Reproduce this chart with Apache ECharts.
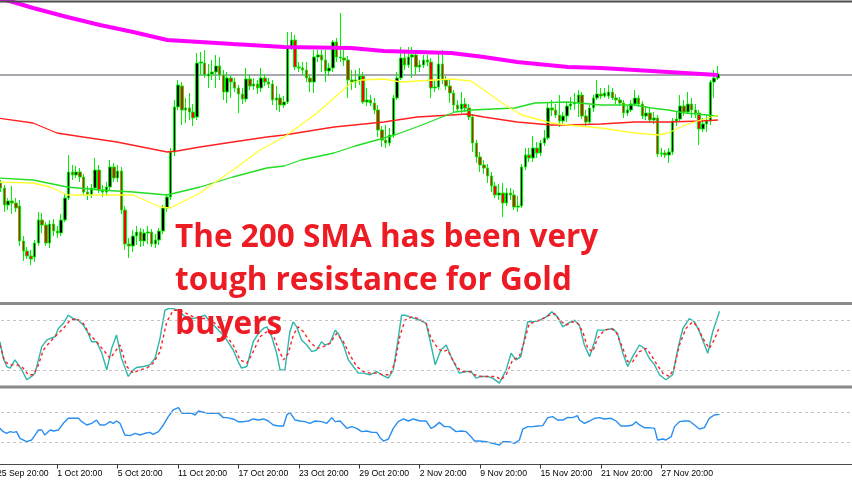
<!DOCTYPE html>
<html><head><meta charset="utf-8">
<script src="https://cdn.jsdelivr.net/npm/echarts/dist/echarts.min.js"></script>
<style>html,body{margin:0;padding:0;background:#fff;overflow:hidden}#c{width:852px;height:485px}</style>
</head><body><div id="c"></div>
<script>
// ---- time axis ----
const tickLabels = ['25 Sep 20:00','1 Oct 20:00','5 Oct 20:00','11 Oct 20:00','17 Oct 20:00','23 Oct 20:00','29 Oct 20:00','2 Nov 20:00','9 Nov 20:00','15 Nov 20:00','21 Nov 20:00','27 Nov 20:00'];
const barsPerLabel = 16;
const totalSlots = 227; // bars + empty chart shift on the right

// ---- price candles (XAU/USD) ----
const opens = [1205.5,1204.25,1203,1198.75,1199.75,1199.25,1198.5,1189.75,1187.25,1186,
1185.75,1189.25,1195,1193.75,1189.25,1194,1192.25,1191.75,1195,1200.5,
1207,1206.25,1207,1205.75,1202,1201.25,1203,1207.5,1202.5,1202,
1203.25,1208.25,1205.5,1207.25,1197.5,1189,1188.5,1191,1192,1189.75,
1191.75,1192,1189,1190,1192.25,1198,1200.75,1212,1223.25,1228.5,
1222.5,1223,1222,1220.75,1234.25,1234.25,1231,1231.5,1232,1233.5,
1231.25,1227,1230.5,1229.5,1228,1226.5,1225.25,1230.25,1228.5,1229,
1228,1230.5,1229.5,1229,1225,1225.5,1223.75,1224.5,1238.25,1240,
1233.25,1233,1232.5,1230.5,1229.5,1235.75,1236.25,1235,1232.25,1233,
1239.5,1235.75,1235.5,1235,1230,1229.5,1230,1231,1224.5,1225,
1224.25,1222.5,1217.5,1215,1214.25,1216.25,1225.5,1230.5,1235.5,1233.75,
1235.75,1236.25,1233.25,1233.75,1235,1234.5,1228,1228.25,1234,1230,
1228.5,1226.75,1223.75,1222.75,1224,1223,1220.75,1214.25,1210.75,1208.75,
1208,1206,1203.5,1201.25,1201.75,1199.25,1201.75,1201.25,1198.25,1198.5,
1208.25,1211.25,1210.5,1213,1211.75,1214.25,1215.5,1223,1222.5,1221.25,
1219.75,1221,1223.5,1224,1224.25,1226.25,1221,1219.5,1223,1225.5,
1226.5,1226,1226,1227,1225.5,1225,1224.25,1221.75,1222.5,1224,
1225.5,1224,1221,1221.75,1220,1220.5,1211.5,1211.75,1211.25,1212,
1219.75,1220.25,1223.5,1222,1224,1222.5,1221.75,1217.75,1219,1219.75,
1229.5,1230.5];
const closes = [1204.25,1203,1198.75,1199.75,1199.25,1198,1189.75,1187.25,1186,1185.25,
1189.25,1195,1193.75,1189.25,1194,1192.25,1191.75,1195,1200.5,1207,
1206.25,1207,1205.75,1202,1201.25,1203,1207.5,1202.5,1202,1203.25,
1208.25,1205.5,1207.25,1197.5,1189,1188.5,1191,1192,1189.75,1191.75,
1192,1189,1190,1192.25,1198,1200.75,1212,1223.25,1228.75,1222.5,
1223,1222,1220.5,1234.25,1234.5,1231.25,1231.5,1232,1233.5,1231.25,
1227,1230.5,1229.5,1228,1226.5,1225.25,1230.25,1228.5,1229,1228,
1230.5,1229.5,1229,1225,1225.5,1223.75,1224.5,1238.25,1240,1233.25,
1233,1232.5,1230.5,1229.5,1235.75,1236.25,1235,1232.25,1233,1239.5,
1235.75,1235.5,1235,1230,1229.5,1230,1231,1224.5,1225,1224.25,
1222.5,1217.5,1215,1214.25,1216.25,1225.5,1230.5,1235.5,1233.75,1235.75,
1236.25,1233.25,1233.75,1235,1234.5,1228,1228.25,1234,1230,1228.5,
1226.75,1223.75,1222.75,1224,1223,1220.75,1214.25,1210.75,1208.75,1208,
1206,1203.5,1201.25,1201.75,1199.25,1201.75,1201.25,1198.25,1198.5,1208.25,
1211.25,1210.5,1213,1211.75,1214.25,1215.5,1223,1222.5,1221.25,1219.75,
1221,1223.5,1224,1224.25,1226.25,1221,1219.5,1223,1225.5,1226.5,
1226,1226.75,1227,1225.5,1225,1224.25,1221.75,1222.5,1224,1225.5,
1224,1221,1221.75,1220,1220.5,1211.5,1211.75,1211.25,1212,1219.75,
1220.25,1223.5,1222,1224,1222.5,1221.75,1217.75,1219,1219.75,1229.5,
1230.5,1231.5];
const lows = [1203.25,1202,1197,1197.5,1196.5,1197,1188.5,1184.75,1185.25,1183.75,
1184.5,1188.5,1191.75,1188.5,1188,1191,1190.5,1191,1194.5,1200,
1205,1205.5,1204.5,1201,1200,1200.5,1202.5,1201.75,1200.75,1201,
1202.5,1204.5,1204.5,1196.5,1187.5,1185.5,1187,1188.75,1188.25,1188.5,
1189,1188.25,1188,1188.75,1191.5,1197,1200,1211,1222.5,1218.75,
1219.25,1220,1218.5,1220,1231.25,1230.5,1228,1230,1228,1230,
1225,1224.25,1225.5,1227,1221.75,1224,1224.5,1227.5,1227.5,1226.5,
1227,1228.5,1228,1223.75,1222.5,1222,1223,1224,1237.5,1232.5,
1232,1231.25,1229.5,1227,1226.75,1234.5,1232,1229.5,1231,1232,
1234.5,1234.5,1233.5,1225.5,1227.5,1228,1228.75,1224,1223.5,1223.5,
1221.5,1215.75,1213.25,1213,1213.5,1215.5,1225,1230,1232.5,1233,
1230.5,1231.25,1232,1233,1233.5,1225.5,1227,1227.5,1229,1227.5,
1224.25,1221.75,1222,1221.75,1222,1220,1212,1209.25,1207,1206.5,
1204.25,1202,1200.5,1200,1195.75,1198.5,1200,1197.5,1197,1198,
1207.5,1209.5,1209.5,1210.5,1211,1213.5,1215,1221,1220.5,1218.25,
1219,1219.5,1222.5,1222.5,1220.75,1220.25,1218.5,1219,1222,1225,
1225.25,1225.5,1225.25,1225,1224,1223.5,1220.5,1221,1222,1223.5,
1223.25,1220.25,1220,1219.25,1219,1210.75,1210.75,1210.5,1209.25,1211.25,
1218.5,1219.5,1221,1221.5,1220.5,1220.5,1213.75,1217,1217,1218.75,
1225.5,1230];
const highs = [1206.5,1205,1203.75,1200.5,1203.5,1200.5,1200,1191,1188.25,1187.5,
1190,1197,1196.75,1194.5,1195,1195.25,1193.5,1196.5,1201.5,1211.25,
1208.75,1208.5,1208,1206.5,1203.5,1204,1210.5,1208.75,1203.75,1204.5,
1210,1209.25,1208.75,1208.25,1198.5,1190.5,1192.5,1193.5,1193,1192.75,
1193.5,1192.75,1191.5,1193,1198.75,1201.5,1213,1225,1230,1229.5,
1225.5,1226.75,1224,1236.75,1237,1237.5,1234,1235,1236.25,1235.75,
1232.5,1232,1231.25,1230.5,1228.75,1228,1233,1231.5,1230.5,1230,
1233,1231.5,1230.5,1230,1228.5,1226.5,1226,1242,1242,1241.25,
1234.5,1234.5,1234.5,1231.5,1237.5,1237.5,1237.5,1237.5,1234.25,1240,
1240.5,1246.75,1237.5,1236,1232.5,1232.5,1233,1232,1228,1226.25,
1225.5,1223.75,1218.5,1218.75,1218,1226.25,1232,1238.25,1237,1238.25,
1238.25,1237,1235,1236.25,1236.25,1235.5,1230,1236.75,1237.5,1231,
1230,1227.5,1225,1227,1225.5,1224,1221.5,1215,1212,1210,
1209,1207,1204.5,1204,1204.25,1203,1203,1202.5,1201,1209,
1213,1213,1216,1214.5,1215,1217.5,1224.5,1225,1224,1226.25,
1222,1224.25,1225.75,1226.75,1227.5,1227,1222.5,1223.75,1226.25,1230,
1228,1228,1228.75,1228,1226.5,1225.75,1225,1223.5,1225,1227.5,
1226.25,1224.75,1223.5,1223,1222,1221.25,1213,1212.5,1213,1220.5,
1222,1226.25,1225,1227,1225.5,1224,1222.5,1220.5,1221.25,1230,
1232.5,1233.5];
const currentPrice = 1231.25;

// ---- moving averages: [bar index, price] ----
const sma200 = [[0,1250.5],[4.3,1249.5],[9.6,1248],[18.6,1245.75],[27.3,1243.75],[36.1,1242],[45.1,1240],[53.8,1239.5],[62.5,1239],[76.1,1238.25],[93.8,1238],[102.5,1237.25],[111.3,1237],[120.3,1236.75],[129,1235.75],[137.8,1234.5],[151.3,1233.25],[160,1233],[169,1232.5],[177.8,1232],[191,1231.25]];
const sma100 = [[0,1220.5],[9.6,1219.25],[15.9,1216.75],[22.8,1215.75],[31.8,1214.5],[45.1,1212],[47.7,1212.25],[53.8,1213.25],[62.5,1214.5],[71.5,1215.75],[76.1,1216.25],[89.3,1218.25],[102.5,1219.5],[111.3,1220.75],[120.3,1221.25],[124.5,1221.5],[129,1220.75],[137.8,1219.5],[146.8,1218.75],[151.3,1218.75],[160,1219],[169,1219.5],[177.8,1219.5],[186.5,1219.75],[191,1220]];
const sma50 = [[0,1205.5],[9.6,1205],[18.6,1203.25],[27.3,1202.5],[36.1,1202],[45.1,1201.25],[53.8,1203.25],[62.5,1205.75],[71.5,1208],[76.1,1208.5],[80.6,1210],[89.3,1211.75],[94.9,1213.5],[105.4,1216.25],[112.6,1218.75],[117.9,1220.75],[121.3,1222],[125.9,1222.5],[137.2,1223],[142.5,1224.25],[151.3,1224.5],[160,1223.75],[169,1223.75],[173.3,1223],[177.8,1222.5],[182.3,1221.75],[191,1221]];
const sma20 = [[0,1204.5],[9.6,1204.25],[14.1,1203.25],[18.6,1201.25],[27.3,1201.25],[36.1,1201.25],[43.2,1198.25],[45.9,1198],[48.5,1199.25],[53.8,1201.75],[62.5,1207.5],[69.7,1212.5],[76.1,1215.75],[84.8,1221.75],[93.8,1229.25],[96.5,1230],[102.5,1230.25],[107,1229.5],[115.8,1230],[120.3,1230.25],[125.6,1229.75],[130.1,1226.75],[134.6,1223.75],[139.1,1221.25],[146.8,1219.25],[151.3,1218.75],[160,1218],[169,1216.75],[175.1,1216.25],[177.8,1216.75],[182.3,1218.75],[186.5,1220],[191,1221.25]];

// ---- stochastic: [bar index, value] ----
const stochMain = [[0.8,53.9],[1.7,34.1],[2.6,24.2],[3.5,22.2],[4.8,32.1],[5.7,26.2],[6.6,20.2],[7.9,8.3],[9.2,12.3],[10.1,16.3],[11.9,48],[13.2,55.9],[14.1,57.9],[15.4,59.9],[16.3,69.8],[17.6,75.8],[18.9,85.7],[20.2,81.7],[21.6,79.7],[22.9,73.8],[24.2,63.9],[25.1,53.9],[26.4,53.9],[27.8,40.1],[29.1,20.2],[30.4,46],[31.7,61.9],[33,34.1],[34.8,12.3],[36.1,20.2],[37,23],[38.8,24.2],[40.5,26.2],[41.9,34.1],[43.2,57.9],[44.5,91.6],[45.4,93.6],[46.7,93.6],[48.1,91.6],[49.4,85.7],[50.7,81.7],[52,81.7],[53.8,83.7],[55.1,85.7],[56.5,77.8],[57.8,71.8],[59.5,63.9],[60.9,55.9],[62.6,44],[63.9,30.1],[64.8,22.2],[66.2,24.2],[67.9,53.9],[69.3,63.9],[70.6,69.8],[71.5,71.8],[72.8,59.9],[74.1,40.1],[75,20.2],[76.3,20.2],[77.6,65.9],[78.5,77.8],[79.4,71.8],[80.7,55.9],[82.1,50],[83.4,42],[84.7,44],[86,53.9],[86.9,50],[88.2,52],[89.6,67.8],[90.4,63.9],[91.8,50],[93.1,32.1],[94.4,24.2],[95.7,16.3],[97.1,16.3],[98.8,14.3],[100.6,18.2],[101.9,14.3],[103.7,10.3],[105,20.2],[106.3,57.9],[107.2,85.7],[108.1,85.7],[109.4,83.7],[110.8,81.7],[112.1,79.7],[113.7,75.8],
[115,50],[116.1,26.2],[117.6,44],[119,50],[120.3,36.1],[121.6,24.2],[122.5,16.3],[124.3,18.2],[125.6,18.2],[126.9,10.3],[128.2,12.3],[130,12.3],[131.3,10.3],[133.1,4.3],[134.9,20.2],[136.2,40.1],[137.5,32.1],[138.8,36.1],[140.6,77.8],[141.9,77.8],[143.7,79.7],[145.5,83.7],[147,89.7],[148.5,83.7],[149.9,71.8],[151.2,75.8],[153,79.7],[154.3,73.8],[155.6,50],[157,36.1],[158.3,53.9],[159.1,67.8],[160.9,67.8],[163.1,69.8],[164.4,63.9],[165.8,40.1],[167.1,24.2],[168.4,36.1],[170.2,50],[171.5,46],[172.8,34.1],[174.2,26.2],[175.5,14.3],[177.2,8.3],[179,14.3],[180.3,44],[181.7,69.8],[183.4,81.7],[184.8,77.8],[186.1,65.9],[188.3,40.1],[189.6,65.9],[191.4,90.5]];
const stochSignal = [[0.8,50],[2.1,30.1],[3.5,26.2],[5.2,26.2],[6.6,24.2],[8.3,14.3],[9.7,14.3],[11,26.2],[12.3,44],[14.1,53.9],[15.8,61.9],[17.6,69.8],[19.4,79.7],[21.1,81.7],[22.9,75.8],[24.7,61.9],[26.4,53.9],[28.2,44],[30,34.1],[31.3,42],[32.6,50],[34.4,24.2],[36.1,16.3],[37.9,20.2],[39.7,22.2],[41.4,28.1],[43.2,42],[45,77.8],[46.7,91.6],[48.5,91.6],[50.3,87.7],[52,83.7],[53.8,81.7],[55.6,81.7],[57.3,77.8],[59.1,69.8],[60.9,59.9],[62.6,50],[64.4,32.1],[66.2,28.1],[67.9,42],[69.7,59.9],[71.5,65.9],[73.2,61.9],[74.5,46],[75.9,32.1],[77.2,40.1],[78.5,61.9],[79.8,71.8],[81.2,65.9],[82.9,53.9],[84.7,46],[86.5,48],[88.2,52],[90,63.9],[91.8,53.9],[93.5,38.1],[95.3,24.2],[97.1,18.2],[98.8,16.3],[100.6,16.3],[102.4,14.3],[104.1,14.3],[105.5,30.1],[106.8,61.9],[108.1,79.7],[109.9,83.7],[111.6,81.7],[113.7,75.8],
[115,57.9],[116.8,46],[118.1,42],[119.4,44],[120.7,32.1],[122.1,22.2],[123.4,18.2],[125.2,18.2],[126.5,14.3],[128.2,12.3],[130.4,12.3],[132.2,12.3],[133.5,8.3],[134.9,14.3],[136.6,32.1],[138.4,36.1],[139.7,53.9],[141,75.8],[142.8,77.8],[144.6,81.7],[146.3,85.7],[147.7,87.7],[149,79.7],[150.8,73.8],[152.5,77.8],[153.9,75.8],[155.2,65.9],[156.5,46],[157.8,42],[159.1,57.9],[160.9,67.8],[162.7,69.8],[164,65.9],[165.8,46],[167.1,30.1],[168.4,30.1],[170.2,42],[172,46],[173.3,38.1],[174.6,28.1],[176.4,16.3],[178.1,12.3],[179.4,22.2],[180.8,50],[182.5,69.8],[184.3,77.8],[185.6,71.8],[187,57.9],[188.7,46],[190,55.9],[191.4,71.8]];
const stochLevels = [20, 80];

// ---- RSI: [bar index, value] ----
const rsi = [[0.8,48.2],[1.7,43.8],[2.6,41.6],[3.5,43.8],[4.4,42.9],[5.2,43.8],[6.1,34.9],[7.9,30.4],[9.2,32.7],[10.1,39.3],[11,46],[11.9,46],[12.7,39.3],[14.1,46],[15,44.7],[16.3,46],[17.6,54.9],[18.9,61.6],[20.2,61.6],[21.6,61.6],[22.5,57.1],[23.8,52.7],[25.1,54.9],[26.4,59.3],[27.3,52.7],[28.6,52.7],[30,57.1],[30.8,54.9],[31.7,58],[32.6,54.9],[33.9,39.3],[35.3,38.5],[36.6,41.6],[37.9,39.3],[39.2,41.6],[40.5,42.9],[41.4,40.2],[42.8,43.8],[44.1,52.7],[45.4,63.8],[46.7,72.7],[48.1,75.8],[49,68.2],[50.3,68.2],[51.6,68.2],[52.5,66],[53.4,71.3],[54.7,69.6],[56,68.2],[57.3,68.2],[58.7,68.2],[60,62.5],[60.9,62.5],[62.6,60.7],[63.9,57.1],[65.3,57.1],[66.6,58],[67.9,60.7],[69.3,59.3],[70.6,60.7],[71.9,58],[73.2,52.7],[74.6,51.3],[75.9,51.3],[76.8,66],[77.6,69.6],[79,59.3],[80.3,58],[81.6,57.1],[82.9,54.9],[84.3,58],[86,57.1],[87.4,54.9],[88.7,62.5],[89.6,57.1],[90.9,58],[92.7,48.2],[94,50.5],[95.3,48.2],[96.6,43.8],[98,44.7],[99.3,42.9],[100.6,42.9],[101.5,35.8],[102.4,31.3],[103.7,34],[105,48.2],[106.3,57.1],[107.7,60.7],[109,58],[110.3,60.7],[112.1,58],[113.7,58],
[115,48.2],[115.9,50.5],[117.2,56.2],[118.5,50.5],[119.9,50.5],[121.6,43.8],[123,44.7],[124.3,43.8],[125.6,37.1],[126.5,31.3],[127.8,31.3],[129.6,30.4],[131.3,28.2],[133.1,26],[134,30.4],[135.7,30.4],[137.1,28.2],[138.4,32.7],[139.3,47.3],[140.6,50.5],[141.9,50.5],[143.3,51.3],[144.6,51.8],[145.9,62.5],[147.2,63.8],[148.5,59.3],[149.9,59.3],[151.2,62.9],[152.5,62.5],[153.8,65.1],[154.3,59.3],[155.6,54.9],[157,58],[158.3,61.6],[159.6,62.5],[160.9,60.7],[162.7,61.6],[164,58],[165.3,51.3],[167.1,51.3],[168.4,52.7],[169.3,57.1],[170.2,52.7],[171.5,49.1],[172.8,49.1],[174.2,48.2],[175,32.7],[176.4,34],[177.2,32.7],[178.6,37.1],[179.5,50.5],[180.8,57.1],[182.1,58],[183.4,58],[184.8,52.7],[186.1,47.3],[187.4,49.1],[188.7,61.6],[190,66],[191.4,66.9]];
const rsiLevels = [30, 70];

// ---- annotation ----
const noteLines = ['The 200 SMA has been very', 'tough resistance for Gold', 'buyers'];

// ================= chart =================
const chart = echarts.init(document.getElementById('c'), null, {renderer: 'canvas'});
const cats = Array.from({length: totalSlots}, (_, i) => String(i));
const candleData = opens.map((o, i) => [o, closes[i], lows[i], highs[i]]);
const isLabelBar = (i) => i % barsPerLabel === 0 && (i / barsPerLabel) < tickLabels.length;

const gl = -5, gw = 857;
const hidden = {show: false};
const gridBase = {left: gl, width: gw, containLabel: false, outerBoundsMode: 'none'};
const valX = (g) => ({type: 'value', gridIndex: g, min: -0.5, max: totalSlots - 0.5, show: false});
const lvlLine = (vals) => ({symbol: 'none', silent: true, label: {show: false},
  lineStyle: {color: '#c4c4c4', width: 1, type: [3, 3]}, data: vals.map(v => ({yAxis: v}))});
const maLine = (data, color, width) => ({type: 'line', xAxisIndex: 1, yAxisIndex: 0, data,
  showSymbol: false, symbol: 'none', smooth: false, clip: true, z: 3,
  lineStyle: {color, width}});
const noteFont = 'bold 31.5px "Open Sans"';

const option = {
  animation: false,
  backgroundColor: '#ffffff',
  grid: [
    Object.assign({top: 0, height: 300}, gridBase),
    Object.assign({top: 303.3, height: 83.4}, gridBase),
    Object.assign({top: 389.5, height: 75}, gridBase)
  ],
  xAxis: [
    {type: 'category', gridIndex: 0, data: cats, boundaryGap: true, show: false},
    valX(0), valX(1), valX(2),
    {type: 'category', gridIndex: 2, data: cats, boundaryGap: true, position: 'bottom',
     axisLine: {show: true, onZero: false, lineStyle: {color: '#4a4a4a', width: 1}},
     axisTick: {show: true, alignWithLabel: true, length: 4, interval: (i) => isLabelBar(i), lineStyle: {color: '#333'}},
     axisLabel: {show: true, interval: (i) => isLabelBar(i), formatter: (v, i) => tickLabels[i / barsPerLabel] || '',
       align: 'left', margin: 5, fontSize: 8.7, color: '#000', fontFamily: 'Liberation Sans', hideOverlap: false},
     splitLine: hidden}
  ],
  yAxis: [
    {type: 'value', gridIndex: 0, min: 1175, max: 1250, show: false, splitLine: hidden},
    {type: 'value', gridIndex: 1, min: 0, max: 100, show: false, splitLine: hidden},
    {type: 'value', gridIndex: 2, min: 0, max: 100, show: false, splitLine: hidden}
  ],
  series: [
    {type: 'candlestick', xAxisIndex: 0, yAxisIndex: 0, data: candleData, barWidth: 3, z: 2,
     itemStyle: {color: '#000000', color0: '#ff0000', borderColor: '#00ee00', borderColor0: '#00ee00', borderWidth: 1},
     markLine: {symbol: 'none', silent: true, label: {show: false}, z: 1,
       lineStyle: {color: '#a8a8b0', width: 2, type: 'solid'}, data: [{yAxis: currentPrice}]}},
    maLine(sma100, '#ff2020', 1.3),
    maLine(sma50, '#22dd22', 1.3),
    maLine(sma20, '#ffff30', 1.3),
    maLine(sma200, '#ff00ff', 4),
    {type: 'line', xAxisIndex: 2, yAxisIndex: 1, data: stochMain, showSymbol: false, symbol: 'none', clip: true,
     lineStyle: {color: '#2fb5ab', width: 1.4}, markLine: lvlLine(stochLevels)},
    {type: 'line', xAxisIndex: 2, yAxisIndex: 1, data: stochSignal, showSymbol: false, symbol: 'none', clip: true,
     lineStyle: {color: '#ff2020', width: 1.4, type: [3, 3]}},
    {type: 'line', xAxisIndex: 3, yAxisIndex: 2, data: rsi, showSymbol: false, symbol: 'none', clip: true,
     lineStyle: {color: '#2a8ff0', width: 1.4}, markLine: lvlLine(rsiLevels)}
  ],
  graphic: [
    {type: 'rect', z: 50, shape: {x: 0, y: 0.5, width: 852, height: 2}, style: {fill: '#4d4d4d'}},
    {type: 'rect', z: 50, shape: {x: 0, y: 302, width: 852, height: 3}, style: {fill: '#8a8a8a'}},
    {type: 'rect', z: 50, shape: {x: 0, y: 385.5, width: 852, height: 3}, style: {fill: '#8a8a8a'}},
    {type: 'text', z: 60, x: 175, y: 238, style: {text: noteLines[0], font: noteFont, fill: '#ed1c24', verticalAlign: 'middle'}},
    {type: 'text', z: 60, x: 175, y: 281, style: {text: noteLines[1], font: noteFont, fill: '#ed1c24', verticalAlign: 'middle'}},
    {type: 'text', z: 60, x: 175, y: 325, style: {text: noteLines[2], font: noteFont, fill: '#ed1c24', verticalAlign: 'middle'}}
  ]
};
chart.setOption(option);
</script>
</body></html>
